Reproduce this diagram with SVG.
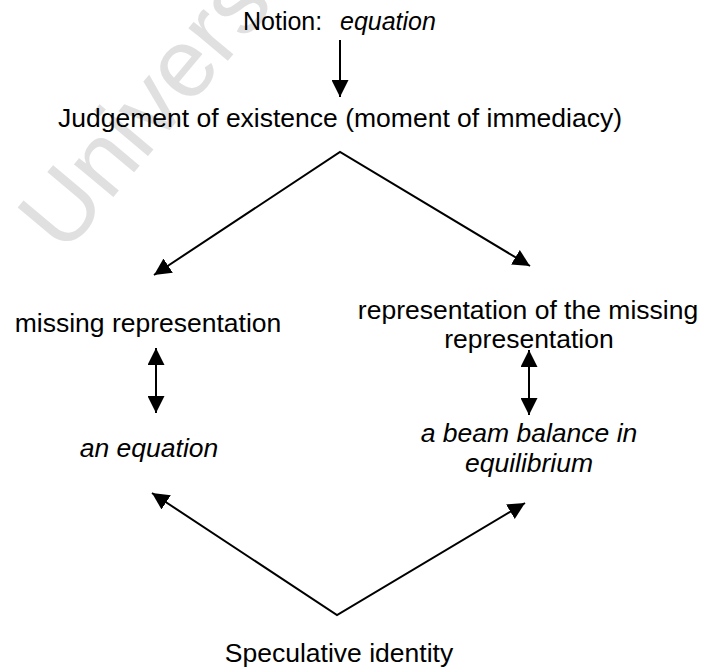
<svg xmlns="http://www.w3.org/2000/svg" width="705" height="669" viewBox="0 0 705 669">
<style>
.t{font-family:"Liberation Sans",Arial,sans-serif;font-size:26.5px;fill:#000}
.i{font-style:italic}
.m{text-anchor:middle}
.c{stroke:#000;stroke-width:2;fill:none}
.wm{font-family:"Liberation Sans",Arial,sans-serif;font-size:97px;fill:#e0e0e0}
</style>
<defs>
<marker id="ah" markerUnits="userSpaceOnUse" markerWidth="18" markerHeight="17" refX="17" refY="8.5" orient="auto-start-reverse">
<path d="M0,0 L17,8.5 L0,17 z" fill="#000"/>
</marker>
</defs>
<text class="wm" transform="translate(64,256) rotate(-50)">University</text>
<g id="connectors">
<line class="c" x1="340" y1="40" x2="340" y2="97" marker-end="url(#ah)"/>
<polyline class="c" points="154,275 340,152 530,266" marker-start="url(#ah)" marker-end="url(#ah)"/>
<line class="c" x1="156" y1="348" x2="156" y2="413" marker-start="url(#ah)" marker-end="url(#ah)"/>
<line class="c" x1="529" y1="350" x2="529" y2="415" marker-start="url(#ah)" marker-end="url(#ah)"/>
<polyline class="c" points="152,493 337,615 525,503" marker-start="url(#ah)" marker-end="url(#ah)"/>
</g>
<g id="notion"><text class="t" x="243" y="30" style="font-size:25px">Notion:<tspan class="i" x="340">equation</tspan></text></g>
<g id="judgement"><text class="t m" x="340" y="127">Judgement of existence (moment of immediacy)</text></g>
<g id="missing"><text class="t m" x="148" y="332">missing representation</text></g>
<g id="an-equation"><text class="t i m" x="149" y="457">an equation</text></g>
<g id="representation"><text class="t m" x="528" y="319">representation of the missing</text><text class="t m" x="529" y="348">representation</text></g>
<g id="beam"><text class="t i m" x="529" y="442">a beam balance in</text><text class="t i m" x="529" y="472">equilibrium</text></g>
<g id="speculative"><text class="t m" x="339" y="662">Speculative identity</text></g>
</svg>
